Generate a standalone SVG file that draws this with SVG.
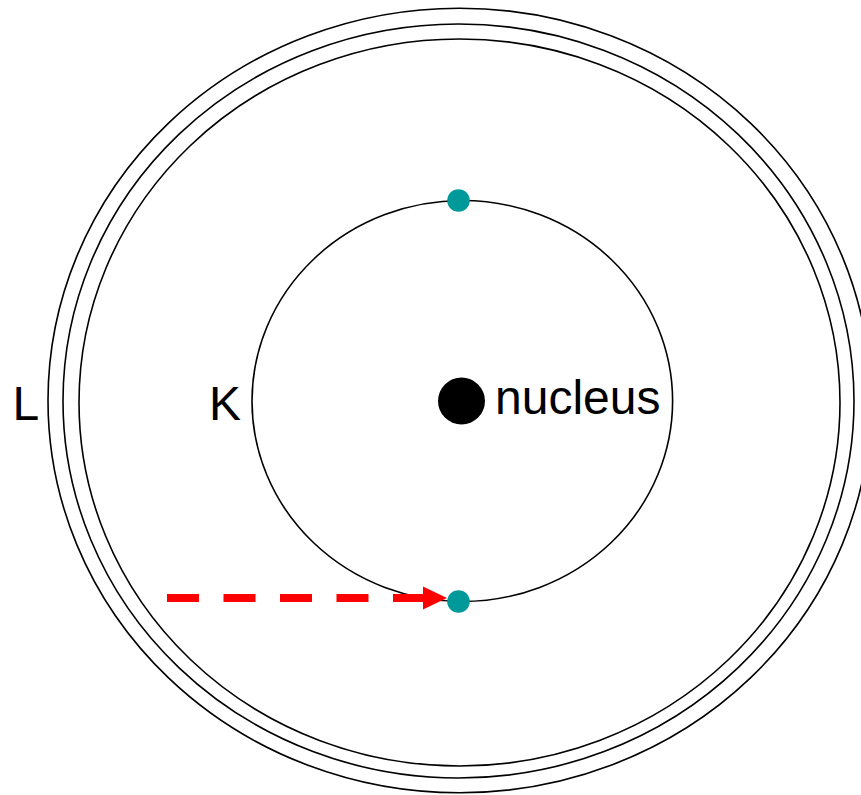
<svg xmlns="http://www.w3.org/2000/svg" width="861" height="795" viewBox="0 0 861 795">
<style>
.orbit{fill:none;stroke:#000;stroke-width:1.6}
.lbl{font-family:"Liberation Sans",Arial,sans-serif;font-size:48px;fill:#000}
.e{fill:#009999}
</style>
<defs>
<marker id="ah" markerWidth="24" markerHeight="24" refX="0" refY="12" orient="auto" markerUnits="userSpaceOnUse">
<polygon points="0,0.5 24,12 0,23.5" fill="#ff0000"/>
</marker>
</defs>
<rect width="861" height="795" fill="#fff"/>
<g id="shell-L">
<ellipse class="orbit" cx="459.5" cy="400.5" rx="411.5" ry="392.3"/>
<ellipse class="orbit" cx="458.5" cy="401" rx="395.5" ry="377"/>
<ellipse class="orbit" cx="459.5" cy="402.5" rx="380.5" ry="363.5"/>
<text class="lbl" x="12.5" y="420">L</text>
</g>
<g id="shell-K">
<ellipse class="orbit" cx="462.3" cy="401" rx="210.3" ry="200.5"/>
<text class="lbl" x="209" y="420">K</text>
</g>
<g id="nucleus">
<circle cx="461.5" cy="401" r="23.5" fill="#000"/>
<text class="lbl" x="495" y="414">nucleus</text>
</g>
<g id="connectors">
<line x1="167" y1="598" x2="423" y2="598" stroke="#ff0000" stroke-width="8" stroke-dasharray="32 24.5" marker-end="url(#ah)"/>
</g>
<g id="electron-top"><circle class="e" cx="458.5" cy="200.5" r="11.3"/></g>
<g id="electron-bottom"><circle class="e" cx="458.5" cy="601.5" r="11.3"/></g>
</svg>
